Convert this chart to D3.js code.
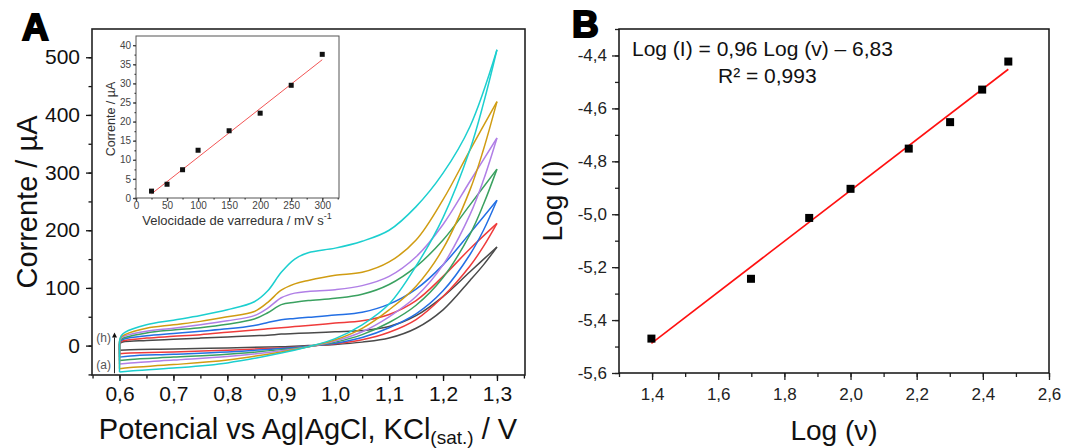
<!DOCTYPE html>
<html lang="pt">
<head>
<meta charset="UTF-8">
<title>Voltametria ciclica</title>
<script src="https://d3js.org/d3.v7.min.js"></script>
<style>
  body { margin: 0; background: #fff; }
  svg { display: block; font-family: "Liberation Sans", Arial, sans-serif; }
</style>
</head>
<body>
<div id="chart"></div>
<script>
// ---- data ----
var scanRates = [25, 50, 75, 100, 150, 200, 250, 300];           // mV s-1
var peakCurrent = [1.8, 3.6, 7.4, 12.5, 17.6, 22.2, 29.5, 37.6]; // uA (inset)
var logV = [1.398, 1.699, 1.875, 2.0, 2.176, 2.301, 2.398, 2.477];
var logI = [-5.47, -5.244, -5.014, -4.904, -4.752, -4.652, -4.529, -4.423];

var insetFit = {slope: 0.1276, intercept: -2.09};
var logFit = {slope: 0.96, intercept: -6.83};

// potentials of the forward (0.6 -> 1.3 V) and reverse (1.3 -> 0.6 V) scans
var fwdE = [0.6, 0.603, 0.61, 0.65, 0.7, 0.75, 0.8, 0.85, 0.875, 0.9, 0.925, 0.95, 1.0, 1.05, 1.1, 1.15, 1.2, 1.25, 1.3];
var revE = [1.3, 1.275, 1.25, 1.2, 1.15, 1.1, 1.05, 1.0, 0.95, 0.9, 0.8, 0.7, 0.62, 0.6];

// currents (uA) for each voltammogram
var fwdI = [
  [2, 5, 7, 9, 11, 13, 15, 17, 18, 20, 21, 22, 24, 26, 33, 52, 85, 128, 171],
  [3, 7, 9, 13, 16, 19, 23, 27, 29, 31, 33, 35, 39, 43, 54, 78, 120, 168, 212],
  [4, 9, 12, 17, 21, 25, 29, 35, 40, 45, 47, 49, 53, 58, 72, 98, 140, 195, 252],
  [5, 11, 14, 22, 27, 31, 37, 46, 57, 71, 75, 78, 82, 89, 106, 137, 183, 244, 306],
  [6, 13, 17, 25, 30, 36, 43, 52, 65, 83, 91, 94, 97, 104, 120, 154, 210, 285, 360],
  [7, 15, 19, 30, 36, 42, 50, 59, 75, 96, 107, 113, 122, 127, 145, 183, 253, 339, 423],
  [8, 17, 23, 36, 44, 52, 62, 76, 95, 127, 150, 161, 169, 181, 200, 241, 299, 380, 513]
];
var revI = [
  [171, 140, 113, 62, 30, 13, 6, 2, 0, -2, -4, -6, -7, -8],
  [212, 172, 138, 85, 45, 23, 10, 3, -1, -4, -8, -11, -13, -14],
  [252, 200, 158, 95, 55, 31, 14, 4, -1, -5, -11, -15, -18, -20],
  [306, 245, 193, 118, 70, 40, 19, 6, -2, -7, -15, -20, -24, -26],
  [360, 287, 227, 140, 85, 50, 24, 8, -2, -9, -19, -25, -30, -32],
  [423, 340, 270, 168, 103, 62, 30, 10, -2, -11, -25, -33, -38, -40],
  [513, 420, 340, 222, 138, 72, 36, 12, -2, -13, -30, -39, -44, -46]
];
var cvColors = ["#4a4a4a", "#ef3b3b", "#236fe4", "#3aa160", "#b07fe6", "#d09c12", "#1ccfcf"];

var xTicksA = [0.6, 0.7, 0.8, 0.9, 1.0, 1.1, 1.2, 1.3];
var yTicksA = [0, 100, 200, 300, 400, 500];
var xTicksB = [1.4, 1.6, 1.8, 2.0, 2.2, 2.4, 2.6];
var yTicksB = [-5.6, -5.4, -5.2, -5.0, -4.8, -4.6, -4.4];

var comma = function(d) { return d.toFixed(1).replace(".", ","); };

var svg = d3.select("#chart").append("svg")
  .attr("width", 1068)
  .attr("height", 448);

// small helper: ticks outward on left and bottom, frame drawn separately
function addAxis(g, makeAxis, major, minor, size, minorSize, pad, fmt, fontSize, color) {
  g.append("g").call(makeAxis().tickValues(minor).tickSize(minorSize).tickFormat(""))
    .select(".domain").remove();
  var m = g.append("g").call(makeAxis().tickValues(major).tickSize(size).tickPadding(pad).tickFormat(fmt));
  m.select(".domain").remove();
  g.selectAll("line").attr("stroke", color).attr("stroke-width", 1.3);
  m.selectAll("text").attr("font-size", fontSize).attr("fill", color);
  g.selectAll("g").attr("font-family", null).attr("font-size", null);
}

// ================= panel A =================
var xA = d3.scaleLinear().domain([0.549, 1.352]).range([92, 525]);
var yA = d3.scaleLinear().domain([-51, 549]).range([375, 29]);

var line = d3.line().curve(d3.curveCatmullRom.alpha(0.5));

var cv = svg.append("g");
fwdI.forEach(function(cur, k) {
  var f = fwdE.map(function(e, i) { return [xA(e), yA(cur[i])]; });
  var r = revE.map(function(e, i) { return [xA(e), yA(revI[k][i])]; });
  var g = cv.append("g")
    .attr("fill", "none")
    .attr("stroke", cvColors[k])
    .attr("stroke-width", 1.5);
  g.append("path").attr("d", line(f));
  g.append("path").attr("d", line(r));
  g.append("path").attr("d", d3.line()([r[r.length - 1], f[0]]));
});

addAxis(svg.append("g").attr("transform", "translate(0,375)"), function() { return d3.axisBottom(xA); },
  xTicksA, d3.range(0.55, 1.36, 0.05), 6, 3.5, 5, comma, 21, "#111");
addAxis(svg.append("g").attr("transform", "translate(92,0)"), function() { return d3.axisLeft(yA); },
  yTicksA, d3.range(-50, 550, 50), 6, 3.5, 6, d3.format("d"), 21, "#111");

svg.append("rect")
  .attr("x", 92).attr("y", 29).attr("width", 433).attr("height", 346)
  .attr("fill", "none").attr("stroke", "#222").attr("stroke-width", 1.6);

// arrow (a) -> (h)
svg.append("defs").append("marker")
  .attr("id", "head").attr("viewBox", "0 0 10 10").attr("refX", 5).attr("refY", 10)
  .attr("markerWidth", 5).attr("markerHeight", 8).attr("markerUnits", "userSpaceOnUse")
  .attr("orient", "0")
  .append("path").attr("d", "M0,10 L5,0 L10,10 Z").attr("fill", "#111");
svg.append("line")
  .attr("x1", xA(0.5907)).attr("x2", xA(0.5907))
  .attr("y1", yA(-48)).attr("y2", yA(14))
  .attr("stroke", "#222").attr("stroke-width", 1)
  .attr("marker-end", "url(#head)");
svg.append("text").attr("x", 111).attr("y", 342).attr("text-anchor", "end")
  .attr("font-size", 12).attr("fill", "#555").text("(h)");
svg.append("text").attr("x", 111).attr("y", 369).attr("text-anchor", "end")
  .attr("font-size", 12).attr("fill", "#555").text("(a)");

svg.append("text")
  .attr("transform", "translate(37,202) rotate(-90)")
  .attr("text-anchor", "middle").attr("font-size", 29).attr("fill", "#111")
  .text("Corrente / \u00b5A");

var xt = svg.append("text").attr("x", 308).attr("y", 439)
  .attr("text-anchor", "middle").attr("font-size", 29).attr("fill", "#111");
xt.append("tspan").text("Potencial vs Ag|AgCl, KCl");
xt.append("tspan").attr("font-size", 19).attr("dy", 5).text("(sat.)");
xt.append("tspan").attr("dy", -5).text(" / V");

svg.append("text").attr("x", 22).attr("y", 40)
  .attr("font-size", 37).attr("font-weight", "bold")
  .attr("stroke", "#000").attr("stroke-width", 2).text("A");

// ---- inset ----
var xI = d3.scaleLinear().domain([0, 327]).range([136, 339]);
var yI = d3.scaleLinear().domain([0, 42.4]).range([198, 36]);

svg.append("rect")
  .attr("x", 136).attr("y", 36).attr("width", 203).attr("height", 162)
  .attr("fill", "#fff").attr("stroke", "#555").attr("stroke-width", 1);

addAxis(svg.append("g").attr("transform", "translate(0,198)"), function() { return d3.axisBottom(xI); },
  d3.range(0, 301, 50), d3.range(0, 326, 25), 3, 1.5, 1, d3.format("d"), 10, "#444");
addAxis(svg.append("g").attr("transform", "translate(136,0)"), function() { return d3.axisLeft(yI); },
  d3.range(0, 41, 5), d3.range(0, 42, 2.5), 3, 1.5, 2, d3.format("d"), 10, "#444");

svg.append("path")
  .attr("d", d3.line()([25, 300].map(function(v) {
    return [xI(v), yI(insetFit.slope * v + insetFit.intercept)];
  })))
  .attr("stroke", "#f25555").attr("stroke-width", 1).attr("fill", "none");

svg.append("g").selectAll("rect")
  .data(scanRates)
  .enter().append("rect")
    .attr("x", function(d) { return xI(d) - 2.5; })
    .attr("y", function(d, i) { return yI(peakCurrent[i]) - 2.5; })
    .attr("width", 5).attr("height", 5)
    .attr("fill", "#111");

svg.append("text")
  .attr("transform", "translate(115,119) rotate(-90)")
  .attr("text-anchor", "middle").attr("font-size", 12.5).attr("fill", "#333")
  .text("Corrente / \u00b5A");
var it = svg.append("text").attr("x", 237).attr("y", 225)
  .attr("text-anchor", "middle").attr("font-size", 13).attr("fill", "#333");
it.append("tspan").text("Velocidade de varredura / mV s");
it.append("tspan").attr("font-size", 9).attr("dy", -6).text("-1");

// ================= panel B =================
var xB = d3.scaleLinear().domain([1.3, 2.6]).range([619, 1049]);
var yB = d3.scaleLinear().domain([-5.6, -4.3]).range([373, 29]);

addAxis(svg.append("g").attr("transform", "translate(0,373)"), function() { return d3.axisBottom(xB); },
  xTicksB, d3.range(1.3, 2.65, 0.1), 7, 4, 8, comma, 17, "#222");
addAxis(svg.append("g").attr("transform", "translate(619,0)"), function() { return d3.axisLeft(yB); },
  yTicksB, d3.range(-5.6, -4.29, 0.1), 7, 4, 5, comma, 17, "#222");

svg.append("rect")
  .attr("x", 619).attr("y", 29).attr("width", 430).attr("height", 344)
  .attr("fill", "none").attr("stroke", "#111").attr("stroke-width", 1.5);

svg.append("path")
  .attr("d", d3.line()([logV[0], logV[logV.length - 1]].map(function(v) {
    return [xB(v), yB(logFit.slope * v + logFit.intercept)];
  })))
  .attr("stroke", "#ff1010").attr("stroke-width", 1.6).attr("fill", "none");

svg.append("g").selectAll("rect")
  .data(logV)
  .enter().append("rect")
    .attr("x", function(d) { return xB(d) - 4; })
    .attr("y", function(d, i) { return yB(logI[i]) - 4; })
    .attr("width", 8).attr("height", 8)
    .attr("fill", "#000");

svg.append("text").attr("x", 632).attr("y", 56)
  .attr("font-size", 21).attr("fill", "#111")
  .text("Log (I) = 0,96 Log (v) \u2013 6,83");
svg.append("text").attr("x", 718).attr("y", 83)
  .attr("font-size", 21).attr("fill", "#111")
  .text("R\u00b2 = 0,993");

svg.append("text")
  .attr("transform", "translate(562,201) rotate(-90)")
  .attr("text-anchor", "middle").attr("font-size", 28).attr("fill", "#111")
  .text("Log (I)");
svg.append("text").attr("x", 834).attr("y", 440)
  .attr("text-anchor", "middle").attr("font-size", 28).attr("fill", "#111")
  .text("Log (\u03bd)");

svg.append("text").attr("x", 572).attr("y", 37)
  .attr("font-size", 37).attr("font-weight", "bold")
  .attr("stroke", "#000").attr("stroke-width", 2).text("B");
</script>
</body>
</html>
